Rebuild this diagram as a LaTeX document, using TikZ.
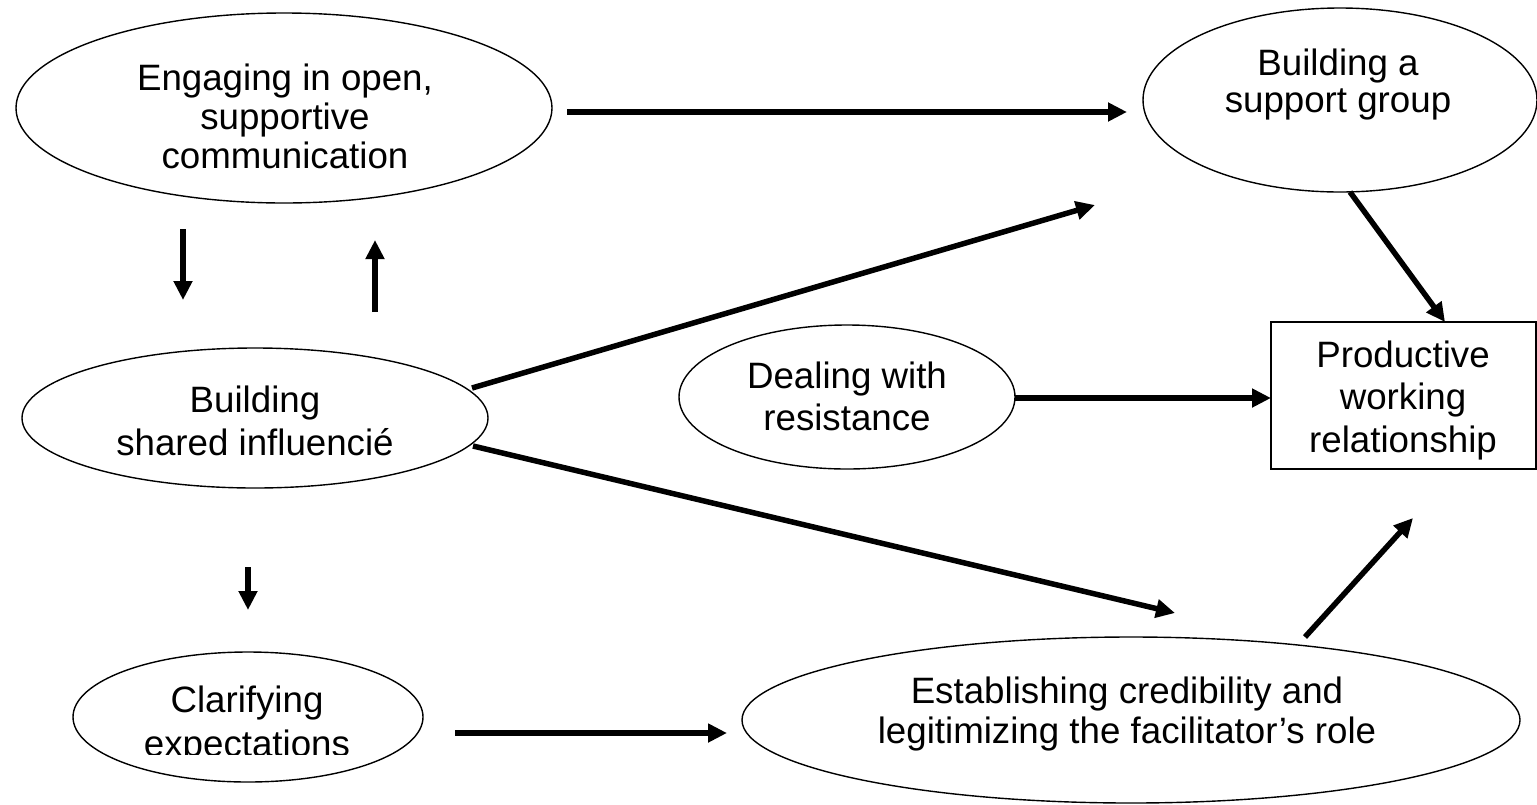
\documentclass[tikz,border=0pt]{standalone}
\usepackage{fontspec}
\setmainfont{Liberation Sans}
\usetikzlibrary{shapes.geometric,arrows.meta}

\begin{document}
\begin{tikzpicture}[x=1pt,y=-1pt,
  bubble/.style={ellipse, draw, line width=1.4pt, inner sep=0pt},
  outcome/.style={rectangle, draw, line width=1.8pt, inner sep=0pt},
  lbl/.style={anchor=base, align=center, inner sep=0pt,
              font=\fontsize{36.7pt}{#1}\selectfont},
  flow/.style={line width=5.5pt, -{Triangle[length=19pt,width=18pt]}}]

\useasboundingbox (0,0) rectangle (1537,804);

% ---- shapes ----
\node[bubble, minimum width=536pt, minimum height=190pt] (A) at (284,108) {};
\node[bubble, minimum width=394pt, minimum height=184pt] (B) at (1340,100) {};
\node[bubble, minimum width=466pt, minimum height=140pt] (C) at (255,418) {};
\node[bubble, minimum width=350pt, minimum height=130pt] (D) at (248,717) {};
\node[bubble, minimum width=336pt, minimum height=144pt] (E) at (847,397) {};
\node[bubble, minimum width=778pt, minimum height=166pt] (F) at (1131,720) {};
\node[outcome, minimum width=265pt, minimum height=147pt] (G) at (1403.5,395.5) {};

% ---- texts (placed by the baseline of their last line) ----
\node[lbl=39pt] (Atext) at (285,168) {Engaging in open,\\supportive\\communication};
\node[lbl=37pt] (Btext) at (1338,112) {Building a\\support group};
\node[lbl=43pt] (Ctext) at (255,455) {Building\\shared influencié};
\begin{scope}
  \clip (60,640) rectangle (440,754);
  \node[lbl=44pt] (Dtext) at (247,756) {Clarifying\\expectations};
\end{scope}
\node[lbl=42pt] (Etext) at (847,430) {Dealing with\\resistance};
\node[lbl=40pt] (Ftext) at (1127,743) {Establishing credibility and\\legitimizing the facilitator’s role};
\node[lbl=42.5pt] (Gtext) at (1403,452) {Productive\\working\\relationship};

% ---- connector end points ----
\coordinate (AB1) at (567,112);  \coordinate (AB2) at (1127,112);
\coordinate (AC1) at (183,229);  \coordinate (AC2) at (183,300);
\coordinate (CA1) at (375,312);  \coordinate (CA2) at (375,240);
\coordinate (CB1) at (472,388);  \coordinate (CB2) at (1095,205);
\coordinate (CF1) at (473,446);  \coordinate (CF2) at (1175,613);
\coordinate (CD1) at (248,567);  \coordinate (CD2) at (248,610);
\coordinate (DF1) at (455,733);  \coordinate (DF2) at (727,733);
\coordinate (EG1) at (1015,398); \coordinate (EG2) at (1271,398);
\coordinate (BG1) at (1350,192); \coordinate (BG2) at (1445,322);
\coordinate (FG1) at (1305,637); \coordinate (FG2) at (1413,518);

% ---- connectors ----
\draw[flow] (AB1) -- (AB2);
\draw[flow] (AC1) -- (AC2);
\draw[flow] (CA1) -- (CA2);
\draw[flow] (CB1) -- (CB2);
\draw[flow] (CF1) -- (CF2);
\draw[flow] (CD1) -- (CD2);
\draw[flow] (DF1) -- (DF2);
\draw[flow] (EG1) -- (EG2);
\draw[flow] (BG1) -- (BG2);
\draw[flow] (FG1) -- (FG2);
\end{tikzpicture}
\end{document}
